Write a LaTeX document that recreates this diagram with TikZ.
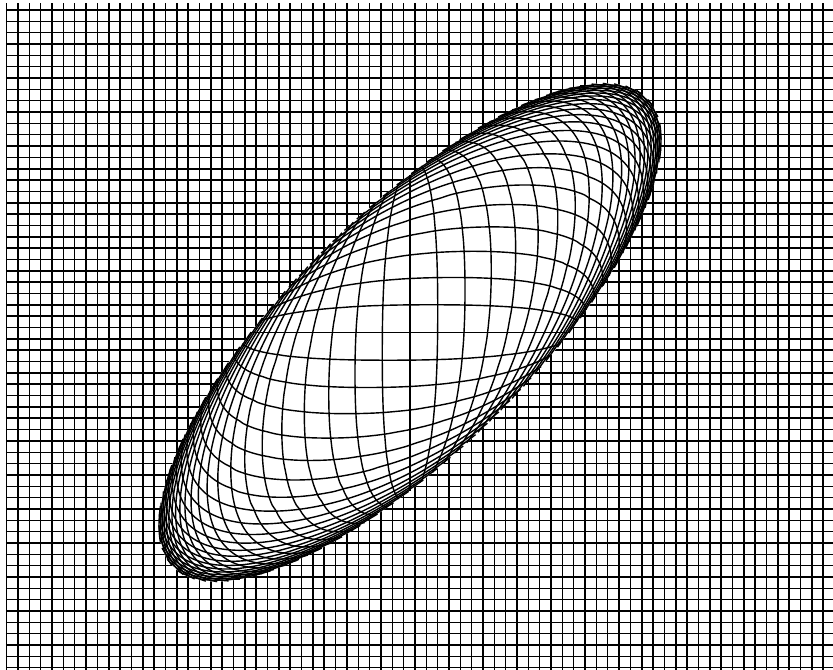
\documentclass[tikz,border=0pt]{standalone}
\begin{document}
\begin{tikzpicture}[
        x=2cm, y=2cm,
        gridline/.style ={line width=0.85pt, black},
        lensline/.style ={line width=0.8pt, black, line join=round},
        declare function={
            qf(\u,\w)   = \qa*\u*\u + 2*\qb*\u*\w + \qc*\w*\w + 0.00001;
            lens(\u,\w) = \mag/(1 + \kk*qf(\u,\w)^(\lp/2))^(1/\lp);
        },
    ]
    \useasboundingbox (0,0) rectangle (8.33,6.70);

    %% Lens parameters (1 unit = 100px)
    \def\cx{4.10}     % centre of lens
    \def\cy{3.375}
    \def\ea{3.33}     % semi-axes
    \def\eb{1.19}
    \def\rot{44.7}    % tilt of major axis
    \def\gs{0.1134}   % grid step
    \def\mag{2.45}    % magnification at centre
    \def\lp{2.4}      % sharpness of the fall-off
    \pgfmathsetmacro{\kk}{\mag^\lp - 1}
    \pgfmathsetmacro{\qa}{cos(\rot)^2/\ea^2 + sin(\rot)^2/\eb^2}
    \pgfmathsetmacro{\qb}{cos(\rot)*sin(\rot)*(1/\ea^2 - 1/\eb^2)}
    \pgfmathsetmacro{\qc}{sin(\rot)^2/\ea^2 + cos(\rot)^2/\eb^2}
    \pgfmathsetmacro{\qdet}{\qa*\qc - \qb*\qb}

    %% Plain grid
    \foreach \i in {0,...,72}
        \draw[gridline] ({0.067+\i*\gs}, 0) -- ({0.067+\i*\gs}, 6.67);
    \foreach \j in {0,...,58}
        \draw[gridline] (0.06, {6.60-\j*\gs}) -- (8.33, {6.60-\j*\gs});

    %% Blank out the lens
    \fill[white, rotate around={\rot:(\cx,\cy)}] (\cx,\cy) ellipse [x radius=\ea, y radius=\eb];

    %% Magnified grid -- vertical lines
    \foreach \k in {-22,...,22} {
        \pgfmathsetmacro{\X}{\k*\gs}
        \pgfmathsetmacro{\dd}{sqrt(max(\qc - \qdet*\X*\X, 0))}
        \pgfmathsetmacro{\ya}{(-\qb*\X - \dd)/\qc}
        \pgfmathsetmacro{\yb}{(-\qb*\X + \dd)/\qc}
        \ifdim\dd pt>0.01pt
            \draw[lensline] plot[smooth, domain=\ya:\yb, samples=70, variable=\t]
                ({\cx + lens(\X,\t)*\X}, {\cy + lens(\X,\t)*\t});
        \fi
    }

    %% Magnified grid -- horizontal lines
    \foreach \k in {-21,...,21} {
        \pgfmathsetmacro{\Y}{\k*\gs}
        \pgfmathsetmacro{\dd}{sqrt(max(\qa - \qdet*\Y*\Y, 0))}
        \pgfmathsetmacro{\xa}{(-\qb*\Y - \dd)/\qa}
        \pgfmathsetmacro{\xb}{(-\qb*\Y + \dd)/\qa}
        \ifdim\dd pt>0.01pt
            \draw[lensline] plot[smooth, domain=\xa:\xb, samples=70, variable=\t]
                ({\cx + lens(\t,\Y)*\t}, {\cy + lens(\t,\Y)*\Y});
        \fi
    }

\end{tikzpicture}
\end{document}
